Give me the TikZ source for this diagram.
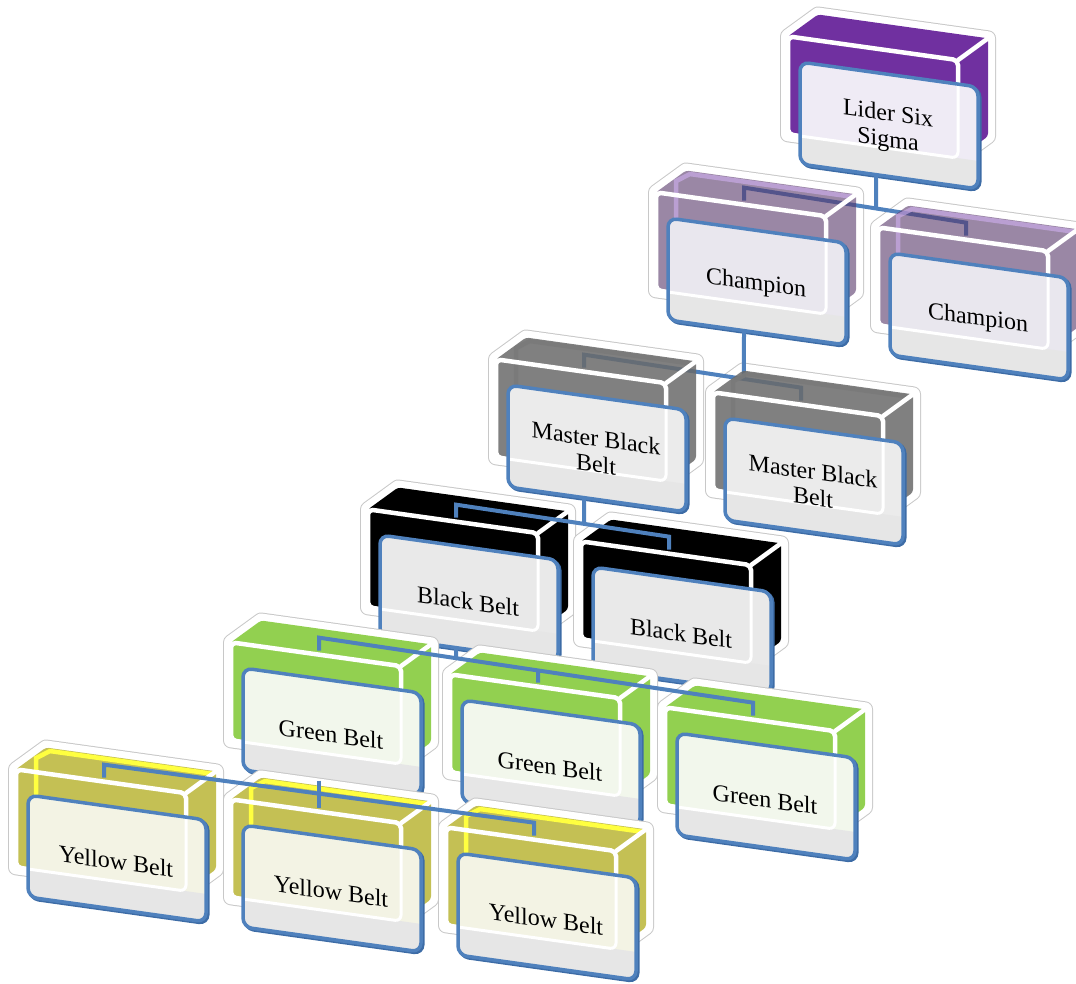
\documentclass[tikz,border=0pt]{standalone}
\usepackage{fontspec}
\setmainfont{Liberation Serif}
\usetikzlibrary{calc}

\definecolor{cardblue}{HTML}{4F81BD}
\definecolor{cardside}{HTML}{3D6CA6}
\definecolor{cardlow}{HTML}{E6E6E6}
\definecolor{rimgray}{HTML}{C8C8C8}
% box colours
\definecolor{liderc}{HTML}{7030A0}
\definecolor{lidert}{HTML}{EFEBF5}
\definecolor{champc}{HTML}{58376A}
\definecolor{champi}{HTML}{D0B0F0}
\definecolor{champt}{HTML}{E9E7EE}
\definecolor{mbbc}{HTML}{6A6A6A}
\definecolor{mbbi}{HTML}{7A7A7A}
\definecolor{mbbt}{HTML}{EBEBEB}
\definecolor{bbc}{HTML}{000000}
\definecolor{bbt}{HTML}{E9E9E9}
\definecolor{gbc}{HTML}{92D050}
\definecolor{gbt}{HTML}{F2F7EC}
\definecolor{ybc}{HTML}{C4C054}
\definecolor{ybi}{HTML}{FFFF40}
\definecolor{ybt}{HTML}{F3F3E4}

% outline of the 3D box: front face, top face and right face
\def\boxoutline{(-12,-24) -- (18,-50) -- (188,-50) -- (188,48) -- (158,74) -- (-12,74) -- cycle}

% white halo behind a box, plus connector anchor points
\newcommand{\beltsil}[3]{%
  \begin{scope}[shift={(#2,#3)}, yslant=-0.14]
    \path[draw=rimgray, line width=16pt, line join=round] \boxoutline;
    \path[draw=white, fill=white, line width=14pt, line join=round] \boxoutline;
    \coordinate (#1-u) at (76,-41);
    \coordinate (#1-d) at (76,-28);
  \end{scope}}

% coloured box body: #1 x, #2 y, #3 colour, #4 opacity, #5 inner wall colour
\newcommand{\beltbody}[5]{%
  \begin{scope}[shift={(#1,#2)}, yslant=-0.14]
    \fill[#3, fill opacity=#4, rounded corners=3pt] \boxoutline;
    \draw[#5, line width=4.5pt, draw opacity=#4] (8,70) -- (8,-38) -- (22,-47) -- (184,-47);
    \draw[white, line width=4.5pt, rounded corners=5pt] (-12,-24) rectangle (158,74);
    \draw[white, line width=4.5pt, line cap=round] (158,-24) -- (188,-50);
  \end{scope}}

% front card with label: #1 name, #2 x, #3 y, #4 tint, #5 text
\newcommand{\beltcard}[5]{%
  \begin{scope}[shift={(#2,#3)}, yslant=-0.14]
    \draw[cardside, line width=3.5pt, rounded corners=9pt] (1.8,1.4) rectangle (179.8,103.4);
    \fill[#4, rounded corners=9pt] (0,0) rectangle (178,102);
    \begin{scope}
      \clip[rounded corners=9pt] (0,0) rectangle (178,102);
      \fill[cardlow] (0,74) rectangle (178,102);
    \end{scope}
    \draw[white, line width=3pt, rounded corners=6pt] (0,74) -- (158,74) -- (158,0);
    \draw[cardblue, line width=3.5pt, rounded corners=9pt] (0,0) rectangle (178,102);
    \node[beltlabel] (#1) at (88,54) {#5};
    \coordinate (#1-s) at (76,102);
  \end{scope}}

\begin{document}
\begin{tikzpicture}[x=1pt, y=-1pt,
  conn/.style={draw=cardblue, line width=4pt},
  beltlabel/.style={transform shape, align=center, inner sep=0pt,
    font=\fontsize{24}{26}\selectfont}]
\useasboundingbox (0,0) rectangle (1076,983);

% ---- Lider Six Sigma
\beltsil{lider}{800}{62}
\beltbody{800}{62}{liderc}{1}{liderc}
\beltcard{lider}{800}{62}{lidert}{Lider Six\\Sigma}

% ---- Champions (connectors seen through the tinted boxes)
\beltsil{cl}{668}{218}
\beltsil{cr}{890}{253}
\draw[conn] (cl-d) -- (cl-u) -- (cr-u) -- (cr-d);
\draw[conn] (lider-s) -- ($(cl-u)!0.595!(cr-u)$);
\beltbody{668}{218}{champc}{0.6}{champi}
\beltbody{890}{253}{champc}{0.6}{champi}
\beltcard{cl}{668}{218}{champt}{Champion}
\beltcard{cr}{890}{253}{champt}{Champion}

% ---- Master Black Belts
\beltsil{ml}{508}{385}
\beltsil{mr}{725}{418}
\draw[conn] (ml-d) -- (ml-u) -- (mr-u) -- (mr-d);
\draw[conn] (cl-s) -- ($(ml-u)!0.737!(mr-u)$);
\beltbody{508}{385}{mbbc}{0.85}{mbbi}
\beltbody{725}{418}{mbbc}{0.85}{mbbi}
\beltcard{ml}{508}{385}{mbbt}{Master Black\\Belt}
\beltcard{mr}{725}{418}{mbbt}{Master Black\\Belt}

% ---- Black Belts
\beltsil{bl}{380}{535}
\beltsil{br}{593}{567}
\beltbody{380}{535}{bbc}{1}{bbc}
\beltbody{593}{567}{bbc}{1}{bbc}
\draw[conn] (bl-d) -- (bl-u) -- (br-u) -- (br-d);
\draw[conn] (ml-s) -- ($(bl-u)!0.601!(br-u)$);
\beltcard{bl}{380}{535}{bbt}{Black Belt}
\beltcard{br}{593}{567}{bbt}{Black Belt}

% ---- Green Belts
\beltsil{ga}{243}{668}
\beltsil{gb}{462}{700}
\beltsil{gc}{677}{733}
\beltbody{243}{668}{gbc}{1}{gbc}
\beltbody{462}{700}{gbc}{1}{gbc}
\beltbody{677}{733}{gbc}{1}{gbc}
\draw[conn] (ga-d) -- (ga-u) -- (gc-u) -- (gc-d);
\draw[conn] ($(ga-u)!0.505!(gc-u)$) -- (gb-d);
\draw[conn] (bl-s) -- ($(ga-u)!0.316!(gc-u)$);
\beltcard{ga}{243}{668}{gbt}{Green Belt}
\beltcard{gb}{462}{700}{gbt}{Green Belt}
\beltcard{gc}{677}{733}{gbt}{Green Belt}

% ---- Yellow Belts
\beltsil{ya}{28}{795}
\beltsil{yb}{243}{825}
\beltsil{yc}{458}{853}
\beltbody{28}{795}{ybc}{1}{ybi}
\beltbody{243}{825}{ybc}{1}{ybi}
\beltbody{458}{853}{ybc}{1}{ybi}
\draw[conn] (ya-d) -- (ya-u) -- (yc-u) -- (yc-d);
\draw[conn] (ga-s) -- (yb-d);
\beltcard{ya}{28}{795}{ybt}{Yellow Belt}
\beltcard{yb}{243}{825}{ybt}{Yellow Belt}
\beltcard{yc}{458}{853}{ybt}{Yellow Belt}

\end{tikzpicture}
\end{document}
